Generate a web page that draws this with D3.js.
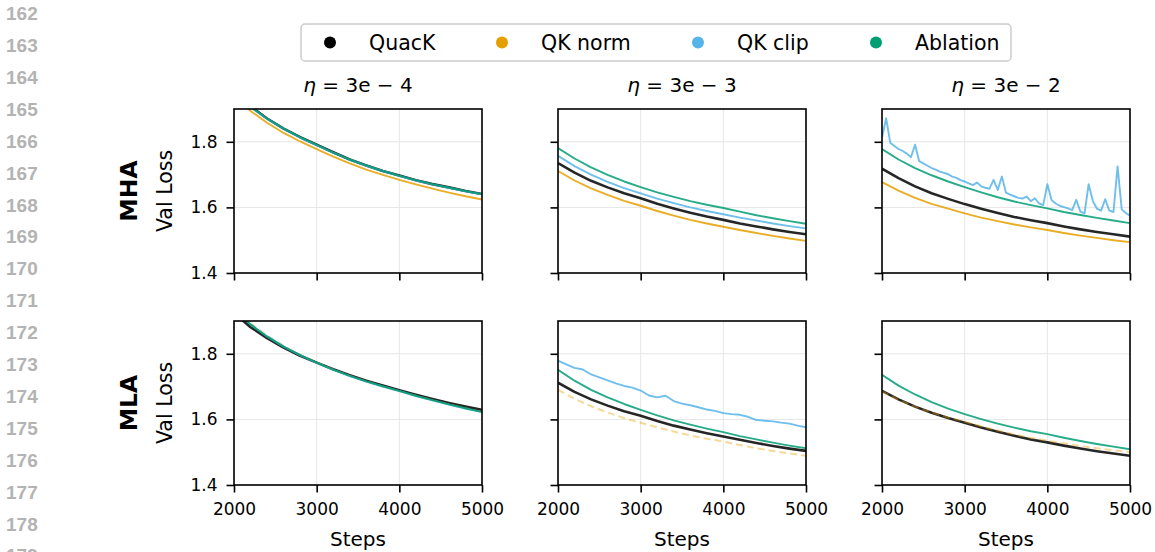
<!DOCTYPE html>
<html lang="en">
<head>
<meta charset="UTF-8" />
<title>Val Loss - QuacK</title>
<script src="https://d3js.org/d3.v7.min.js"></script>
<style>
  body { margin: 0; background: #fff; }
  text { font-family: "DejaVu Sans", sans-serif; fill: #000; }
  .lineno { font-family: "Liberation Sans", Arial, sans-serif; font-weight: bold; font-size: 19px; fill: #b3b3b3; }
  .grid line { stroke: #e6e6e6; stroke-width: 1; }
  .frame { fill: none; stroke: #000; stroke-width: 1.6; }
</style>
</head>
<body>
<div id="chart"></div>
<script>
var width = 1155, height = 552;

// numeros de linha do manuscrito
const lineNumbers = [162, 163, 164, 165, 166, 167, 168, 169, 170, 171, 172, 173, 174, 175, 176, 177, 178, 179];

const methods = ["QuacK", "QK norm", "QK clip", "Ablation"];
const colors = ["#000000", "#E69F00", "#56B4E9", "#009E73"];
const rowNames = ["MHA", "MLA"];
const lrLabels = ["3e − 4", "3e − 3", "3e − 2"];
const xTicks = [2000, 3000, 4000, 5000];
const yTicks = [1.4, 1.6, 1.8];

// passos de avaliacao
const steps = [2000, 2200, 2400, 2600, 2800, 3000, 3200, 3400, 3600, 3800, 4000, 4200, 4400, 4600, 4800, 5000];
const stepsFine = [2000, 2100, 2200, 2300, 2400, 2500, 2600, 2700, 2800, 2900, 3000, 3100, 3200, 3300, 3400, 3500,
  3600, 3700, 3800, 3900, 4000, 4100, 4200, 4300, 4400, 4500, 4600, 4700, 4800, 4900, 5000];
const stepsClip = [2000, 2050, 2100, 2150, 2200, 2250, 2300, 2350, 2400, 2450, 2500, 2550, 2600, 2650, 2700, 2750,
  2800, 2850, 2900, 2950, 3000, 3050, 3100, 3150, 3200, 3250, 3300, 3350, 3400, 3450, 3500, 3550, 3600, 3650,
  3700, 3750, 3800, 3850, 3900, 3950, 4000, 4050, 4100, 4150, 4200, 4250, 4300, 4350, 4400, 4450, 4500, 4550,
  4600, 4650, 4700, 4750, 4800, 4850, 4900, 4950, 5000];

// MHA, eta = 3e-4
const mha4Quack = [1.952, 1.908, 1.871, 1.840, 1.814, 1.791, 1.768, 1.746, 1.728, 1.711, 1.697, 1.683, 1.671, 1.661, 1.650, 1.641];
const mha4Norm  = [1.938, 1.894, 1.858, 1.827, 1.801, 1.778, 1.755, 1.734, 1.715, 1.699, 1.684, 1.670, 1.657, 1.645, 1.634, 1.624];
const mha4Clip  = [1.950, 1.906, 1.870, 1.840, 1.813, 1.790, 1.767, 1.746, 1.727, 1.711, 1.696, 1.682, 1.670, 1.660, 1.649, 1.640];
const mha4Abl   = [1.951, 1.907, 1.871, 1.840, 1.814, 1.791, 1.767, 1.746, 1.728, 1.711, 1.696, 1.683, 1.671, 1.660, 1.650, 1.640];

// MHA, eta = 3e-3
const mha3Quack = [1.735, 1.706, 1.681, 1.661, 1.643, 1.628, 1.611, 1.597, 1.584, 1.572, 1.562, 1.551, 1.542, 1.533, 1.525, 1.518];
const mha3Norm  = [1.711, 1.682, 1.658, 1.638, 1.620, 1.605, 1.589, 1.575, 1.562, 1.551, 1.541, 1.531, 1.522, 1.513, 1.505, 1.498];
const mha3Clip  = [1.757, 1.726, 1.700, 1.678, 1.659, 1.643, 1.627, 1.613, 1.600, 1.589, 1.579, 1.569, 1.560, 1.551, 1.543, 1.536];
const mha3Abl   = [1.781, 1.749, 1.722, 1.699, 1.679, 1.662, 1.646, 1.632, 1.619, 1.608, 1.598, 1.587, 1.576, 1.567, 1.558, 1.550];

// MHA, eta = 3e-2
const mha2Quack = [1.718, 1.689, 1.664, 1.643, 1.626, 1.610, 1.596, 1.583, 1.571, 1.561, 1.552, 1.542, 1.533, 1.525, 1.518, 1.511];
const mha2Norm  = [1.677, 1.651, 1.629, 1.611, 1.596, 1.582, 1.569, 1.558, 1.548, 1.539, 1.531, 1.522, 1.514, 1.507, 1.500, 1.494];
const mha2Clip  = [1.812, 1.872, 1.797, 1.787, 1.778, 1.772, 1.764, 1.753, 1.791, 1.741, 1.734, 1.727, 1.720, 1.715, 1.709, 1.705,
  1.701, 1.694, 1.690, 1.683, 1.679, 1.673, 1.668, 1.676, 1.664, 1.660, 1.657, 1.684, 1.653, 1.694, 1.645, 1.639, 1.634, 1.629,
  1.627, 1.633, 1.619, 1.628, 1.612, 1.607, 1.671, 1.623, 1.612, 1.605, 1.601, 1.597, 1.592, 1.623, 1.587, 1.582, 1.671, 1.620,
  1.596, 1.590, 1.625, 1.590, 1.586, 1.725, 1.594, 1.583, 1.575];
const mha2Abl   = [1.778, 1.746, 1.720, 1.698, 1.679, 1.662, 1.646, 1.631, 1.618, 1.607, 1.597, 1.586, 1.577, 1.568, 1.560, 1.552];

// MLA, eta = 3e-4
const mla4Quack = [1.925, 1.881, 1.848, 1.819, 1.794, 1.773, 1.753, 1.735, 1.718, 1.703, 1.689, 1.675, 1.662, 1.650, 1.639, 1.629];
const mla4Norm  = [1.937, 1.893, 1.856, 1.824, 1.797, 1.774, 1.752, 1.733, 1.716, 1.700, 1.686, 1.672, 1.658, 1.646, 1.634, 1.623];
const mla4Clip  = [1.934, 1.890, 1.853, 1.822, 1.796, 1.772, 1.751, 1.732, 1.715, 1.700, 1.686, 1.671, 1.658, 1.645, 1.633, 1.622];
const mla4Abl   = [1.933, 1.889, 1.853, 1.822, 1.796, 1.773, 1.752, 1.733, 1.716, 1.701, 1.687, 1.672, 1.659, 1.646, 1.634, 1.623];

// MLA, eta = 3e-3
const mla3Quack = [1.712, 1.684, 1.661, 1.642, 1.625, 1.611, 1.595, 1.581, 1.569, 1.558, 1.548, 1.538, 1.528, 1.519, 1.511, 1.504];
const mla3Norm  = [1.690, 1.663, 1.640, 1.621, 1.604, 1.590, 1.576, 1.563, 1.551, 1.541, 1.532, 1.522, 1.512, 1.504, 1.496, 1.489];
const mla3Clip  = [1.779, 1.768, 1.757, 1.752, 1.737, 1.728, 1.719, 1.710, 1.702, 1.697, 1.688, 1.673, 1.667, 1.672, 1.656, 1.648,
  1.643, 1.637, 1.630, 1.626, 1.619, 1.616, 1.614, 1.608, 1.598, 1.596, 1.594, 1.590, 1.587, 1.581, 1.576];
const mla3Abl   = [1.751, 1.718, 1.690, 1.667, 1.647, 1.629, 1.612, 1.597, 1.584, 1.572, 1.561, 1.549, 1.539, 1.529, 1.520, 1.512];

// MLA, eta = 3e-2 (sem QK clip)
const mla2Quack = [1.687, 1.661, 1.639, 1.620, 1.604, 1.590, 1.575, 1.562, 1.550, 1.539, 1.530, 1.520, 1.511, 1.503, 1.496, 1.489];
const mla2Norm  = [1.685, 1.660, 1.639, 1.621, 1.606, 1.593, 1.579, 1.566, 1.554, 1.544, 1.535, 1.527, 1.519, 1.512, 1.506, 1.500];
const mla2Abl   = [1.736, 1.703, 1.676, 1.653, 1.633, 1.616, 1.601, 1.587, 1.575, 1.564, 1.555, 1.544, 1.534, 1.525, 1.517, 1.509];

// tabela dos paineis: [metodo, passos, valores]
const panels = [
  { row: 0, col: 0, series: [[0, steps, mha4Quack], [1, steps, mha4Norm], [2, steps, mha4Clip], [3, steps, mha4Abl]] },
  { row: 0, col: 1, series: [[0, steps, mha3Quack], [1, steps, mha3Norm], [2, steps, mha3Clip], [3, steps, mha3Abl]] },
  { row: 0, col: 2, series: [[0, steps, mha2Quack], [1, steps, mha2Norm], [2, stepsClip, mha2Clip], [3, steps, mha2Abl]] },
  { row: 1, col: 0, series: [[0, steps, mla4Quack], [1, steps, mla4Norm], [2, steps, mla4Clip], [3, steps, mla4Abl]] },
  { row: 1, col: 1, series: [[0, steps, mla3Quack], [1, steps, mla3Norm], [2, stepsFine, mla3Clip], [3, steps, mla3Abl]] },
  { row: 1, col: 2, series: [[0, steps, mla2Quack], [1, steps, mla2Norm], [3, steps, mla2Abl]] }
];

// layout
const colLeft = [234, 558, 882];
const rowTop = [109, 321];
const pw = 248, ph = 164;
const legendX = [330, 502, 698, 876];   // posicao dos marcadores da legenda

let svg = d3.select("#chart").append("svg")
  .attr("width", width)
  .attr("height", height);

// numeros de linha na margem
svg.selectAll("text.lineno")
  .data(lineNumbers)
  .enter()
  .append("text")
  .attr("class", "lineno")
  .attr("x", 6)
  .attr("y", (d, i) => 13.3 + i * 31.9 + 6.8)
  .text(d => d);

var x = d3.scaleLinear().domain([2000, 5000]).range([0, pw]);
var y = d3.scaleLinear().domain([1.4, 1.9]).range([ph, 0]);

var line = d3.line()
  .x(d => x(d[0]))
  .y(d => y(d[1]));

panels.forEach((p, k) => {
  let g = svg.append("g")
    .attr("transform", `translate(${colLeft[p.col]},${rowTop[p.row]})`);

  g.append("clipPath").attr("id", "clip" + k)
    .append("rect").attr("width", pw).attr("height", ph);

  // grade
  let grid = g.append("g").attr("class", "grid");
  grid.selectAll("line.gx").data(xTicks).enter().append("line")
    .attr("x1", d => x(d)).attr("x2", d => x(d)).attr("y1", 0).attr("y2", ph);
  grid.selectAll("line.gy").data(yTicks).enter().append("line")
    .attr("y1", d => y(d)).attr("y2", d => y(d)).attr("x1", 0).attr("x2", pw);

  // curvas
  let lines = g.append("g").attr("clip-path", `url(#clip${k})`);
  p.series.forEach(s => {
    let m = s[0];
    let pts = s[1].map((st, i) => [st, s[2][i]]);
    let path = lines.append("path")
      .attr("d", line(pts))
      .attr("fill", "none")
      .attr("stroke", colors[m])
      .attr("stroke-linejoin", "round")
      .attr("stroke-width", m === 0 ? 2.6 : 1.9)
      .attr("stroke-opacity", 0.85);
    if (m === 1 && p.row === 1) {
      path.attr("stroke-dasharray", "7,4").attr("stroke-opacity", 0.4).attr("stroke-width", 2);
    }
  });

  // eixos
  let ax = g.append("g")
    .attr("transform", `translate(0,${ph})`)
    .call(d3.axisBottom(x).tickValues(xTicks).tickSize(7.5).tickPadding(10)
      .tickFormat(p.row === 1 ? d3.format("d") : ""));
  let ay = g.append("g")
    .call(d3.axisLeft(y).tickValues(yTicks).tickSize(7.5).tickPadding(9)
      .tickFormat(p.col === 0 ? d3.format(".1f") : ""));
  [ax, ay].forEach(a => {
    a.select(".domain").remove();
    a.attr("font-size", 17).attr("font-family", "DejaVu Sans");
    a.selectAll(".tick line").attr("stroke", "#000").attr("stroke-width", 1.6);
  });

  g.append("rect").attr("class", "frame").attr("width", pw).attr("height", ph);

  if (p.row === 0) {
    let t = g.append("text")
      .attr("x", pw / 2).attr("y", -17)
      .attr("text-anchor", "middle")
      .attr("font-size", 20);
    t.append("tspan").attr("font-style", "italic").text("η");
    t.append("tspan").text(" = " + lrLabels[p.col]);
  }
  if (p.row === 1) {
    g.append("text")
      .attr("x", pw / 2).attr("y", ph + 61)
      .attr("text-anchor", "middle")
      .attr("font-size", 20)
      .text("Steps");
  }
  if (p.col === 0) {
    g.append("text")
      .attr("transform", `translate(-62,${ph / 2}) rotate(-90)`)
      .attr("text-anchor", "middle")
      .attr("font-size", 20.5)
      .text("Val Loss");
    g.append("text")
      .attr("transform", `translate(-97,${ph / 2}) rotate(-90)`)
      .attr("text-anchor", "middle")
      .attr("font-size", 23.5)
      .attr("font-weight", "bold")
      .text(rowNames[p.row]);
  }
});

// legenda
let legend = svg.append("g");
legend.append("rect")
  .attr("x", 301).attr("y", 24)
  .attr("width", 710).attr("height", 37)
  .attr("rx", 4)
  .attr("fill", "#fff")
  .attr("stroke", "#cccccc")
  .attr("stroke-width", 1.5);
let items = legend.selectAll("g.item")
  .data(methods)
  .enter()
  .append("g")
  .attr("transform", (d, i) => `translate(${legendX[i]},42.5)`);
items.append("circle")
  .attr("r", 6)
  .attr("fill", (d, i) => colors[i]);
items.append("text")
  .attr("x", 39)
  .attr("y", 7.5)
  .attr("font-size", 20.5)
  .text(d => d);
</script>
</body>
</html>
